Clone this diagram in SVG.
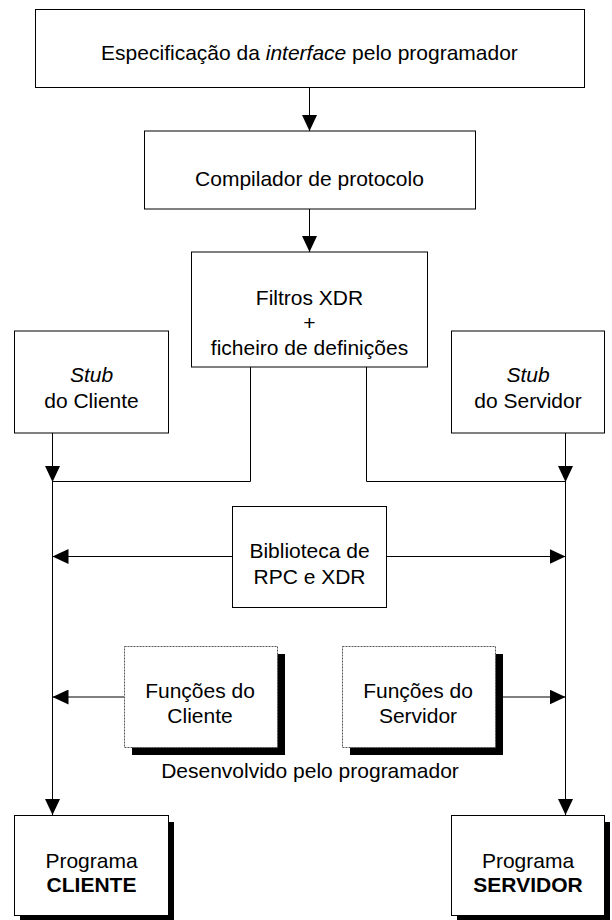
<svg xmlns="http://www.w3.org/2000/svg" width="612" height="920" viewBox="0 0 612 920">
<style>
.box{fill:#fff;stroke:#000;stroke-width:1}
.dbox{fill:#fff;stroke:#555;stroke-width:1;stroke-dasharray:2,1}
.shadow{fill:#000}
text{font-family:"Liberation Sans",Arial,sans-serif;font-size:21px;fill:#000;text-anchor:middle}
.it{font-style:italic}
.b{font-weight:bold}
.ln{fill:none;stroke:#000;stroke-width:1}
.ar{fill:none;stroke:#000;stroke-width:1;marker-end:url(#ah)}
</style>
<defs>
<marker id="ah" markerUnits="userSpaceOnUse" markerWidth="16" markerHeight="15" viewBox="0 0 16 15" refX="16" refY="7.5" orient="auto">
<path d="M0,0 L16,7.5 L0,15 z" fill="#000"/>
</marker>
</defs>
<g id="connectors">
<line class="ar" x1="309.5" y1="87.5" x2="309.5" y2="131"/>
<line class="ar" x1="309.5" y1="209" x2="309.5" y2="252"/>
<line class="ar" x1="52.5" y1="433" x2="52.5" y2="482"/>
<line class="ar" x1="52.5" y1="482" x2="52.5" y2="815"/>
<line class="ar" x1="565.5" y1="433" x2="565.5" y2="482"/>
<line class="ar" x1="565.5" y1="482" x2="565.5" y2="815"/>
<path class="ln" d="M250.5,367 V481.5 H52.5"/>
<path class="ln" d="M366.5,367 V481.5 H565.5"/>
<line class="ar" x1="232" y1="556.5" x2="52.5" y2="556.5"/>
<line class="ar" x1="386" y1="556.5" x2="565.5" y2="556.5"/>
<line class="ar" x1="124" y1="697" x2="52.5" y2="697"/>
<line class="ar" x1="502" y1="697" x2="565.5" y2="697"/>
</g>
<g id="especificacao">
<rect class="box" x="35.5" y="9.5" width="549" height="78"/>
<text x="309.5" y="60">Especificação da <tspan class="it">interface</tspan> pelo programador</text>
</g>
<g id="compilador">
<rect class="box" x="144.5" y="131" width="331" height="78"/>
<text x="309.5" y="186">Compilador de protocolo</text>
</g>
<g id="filtros">
<rect class="box" x="191.5" y="252" width="236" height="115"/>
<text x="309.5" y="305">Filtros XDR</text>
<text x="309.5" y="330">+</text>
<text x="309.5" y="355">ficheiro de definições</text>
</g>
<g id="stub-cliente">
<rect class="box" x="14.5" y="331" width="154" height="102"/>
<text x="91.5" y="382" class="it">Stub</text>
<text x="91.5" y="408">do Cliente</text>
</g>
<g id="stub-servidor">
<rect class="box" x="451.5" y="331" width="153" height="102"/>
<text x="528" y="382" class="it">Stub</text>
<text x="528" y="408">do Servidor</text>
</g>
<g id="biblioteca">
<rect class="box" x="232.5" y="506.5" width="154" height="101"/>
<text x="309.5" y="558">Biblioteca de</text>
<text x="309.5" y="584">RPC e XDR</text>
</g>
<g id="funcoes-cliente">
<rect class="shadow" x="132" y="654" width="153" height="101"/>
<rect class="dbox" x="124.5" y="646.5" width="153" height="101"/>
<text x="200" y="698">Funções do</text>
<text x="200" y="723">Cliente</text>
</g>
<g id="funcoes-servidor">
<rect class="shadow" x="350" y="654" width="153" height="101"/>
<rect class="dbox" x="342.5" y="646.5" width="153" height="101"/>
<text x="418" y="698">Funções do</text>
<text x="418" y="723">Servidor</text>
</g>
<g id="desenvolvido">
<text x="310" y="778">Desenvolvido pelo programador</text>
</g>
<g id="programa-cliente">
<rect class="shadow" x="20" y="822" width="154" height="100"/>
<rect class="box" x="14.5" y="815.5" width="154" height="100"/>
<text x="91.5" y="868">Programa</text>
<text x="91.5" y="892" class="b">CLIENTE</text>
</g>
<g id="programa-servidor">
<rect class="shadow" x="457" y="822" width="153" height="100"/>
<rect class="box" x="451.5" y="815.5" width="153" height="100"/>
<text x="528" y="868">Programa</text>
<text x="528" y="892" class="b">SERVIDOR</text>
</g>
</svg>
